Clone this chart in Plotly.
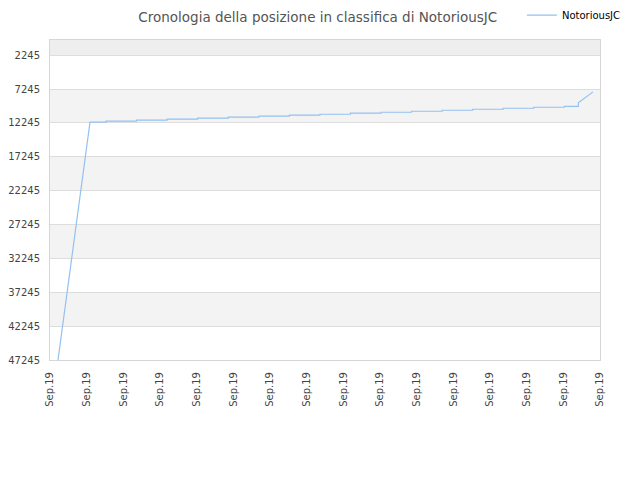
# coding=utf-8
import plotly.graph_objects as go

# posizioni in classifica
date_punti = [
    '2019-09-01 10:15', '2019-09-02 11:25',
    '2019-09-03 00:00', '2019-09-03 00:00',
    '2019-09-04 00:00', '2019-09-04 00:00',
    '2019-09-05 00:00', '2019-09-05 00:00',
    '2019-09-06 00:00', '2019-09-06 00:00',
    '2019-09-07 00:00', '2019-09-07 00:00',
    '2019-09-08 00:00', '2019-09-08 00:00',
    '2019-09-09 00:00', '2019-09-09 00:00',
    '2019-09-10 00:00', '2019-09-10 00:00',
    '2019-09-11 00:00', '2019-09-11 00:00',
    '2019-09-12 00:00', '2019-09-12 00:00',
    '2019-09-13 00:00', '2019-09-13 00:00',
    '2019-09-14 00:00', '2019-09-14 00:00',
    '2019-09-15 00:00', '2019-09-15 00:00',
    '2019-09-16 00:00', '2019-09-16 00:00',
    '2019-09-17 00:00', '2019-09-17 00:00',
    '2019-09-18 00:00', '2019-09-18 00:00',
    '2019-09-18 11:00', '2019-09-18 11:00',
    '2019-09-18 22:30',
]
posizioni = [
    47300, 12130,
    12130, 11985,
    11985, 11840,
    11840, 11690,
    11690, 11545,
    11545, 11400,
    11400, 11250,
    11250, 11105,
    11105, 10960,
    10960, 10810,
    10810, 10665,
    10665, 10520,
    10520, 10370,
    10370, 10225,
    10225, 10080,
    10080, 9930,
    9930, 9785,
    9785, 9280,
    7660,
]
y_ticks = [2245, 7245, 12245, 17245, 22245, 27245, 32245, 37245, 42245, 47245]
giocatore = 'NotoriousJC'
titolo = 'Cronologia della posizione in classifica di ' + giocatore

x_inizio = '2019-09-01 04:00'
x_fine = '2019-09-19 04:00'
y_min = 0


def main():
    fig = go.Figure()
    fig.add_trace(go.Scatter(x=date_punti, y=posizioni, mode='lines',
                             name=giocatore,
                             line=dict(color='#94c1f1', width=1.2)))

    # fasce alternate grigie / bianche
    bordi = [y_min] + y_ticks
    for i in range(len(bordi) - 1):
        if i % 2 == 0:
            colore = '#eeeeee' if i == 0 else '#f3f3f3'
            fig.add_shape(type='rect', xref='paper', yref='y',
                          x0=0, x1=1, y0=bordi[i], y1=bordi[i + 1],
                          fillcolor=colore, line_width=0, layer='below')

    # la pagina ha 8px di margine sul body: margini compensati
    fig.update_layout(
        width=640, height=480,
        paper_bgcolor='white', plot_bgcolor='white',
        font=dict(family='DejaVu Sans', size=10, color='#444444'),
        title=dict(text=titolo, x=0.484, xanchor='center', y=0.981,
                   yanchor='middle',
                   font=dict(family='DejaVu Sans', size=13.5, color='#555555')),
        margin=dict(l=42, r=48, t=32, b=128, autoexpand=False),
        showlegend=True,
        legend=dict(x=0.858, xanchor='left', y=1.078, yanchor='middle',
                    bgcolor='rgba(0,0,0,0)',
                    font=dict(family='DejaVu Sans', size=10, color='#000000')),
    )
    fig.update_xaxes(type='date', range=[x_inizio, x_fine],
                     tick0=x_inizio, dtick=103680000, tickformat='%b.%y',
                     tickangle=-90, showgrid=False, automargin=False,
                     ticklabelstandoff=7,
                     showline=True, linecolor='#d6d6d6', mirror=True,
                     ticks='', zeroline=False)
    fig.update_yaxes(range=[y_ticks[-1], y_min], tickvals=y_ticks,
                     tickformat='d', automargin=False,
                     ticklabelstandoff=7,
                     showgrid=True, gridcolor='#dddddd', gridwidth=1,
                     showline=True, linecolor='#d6d6d6', mirror=True,
                     ticks='', zeroline=False)
    fig.write_html('out.html')


if __name__ == '__main__':
    main()
